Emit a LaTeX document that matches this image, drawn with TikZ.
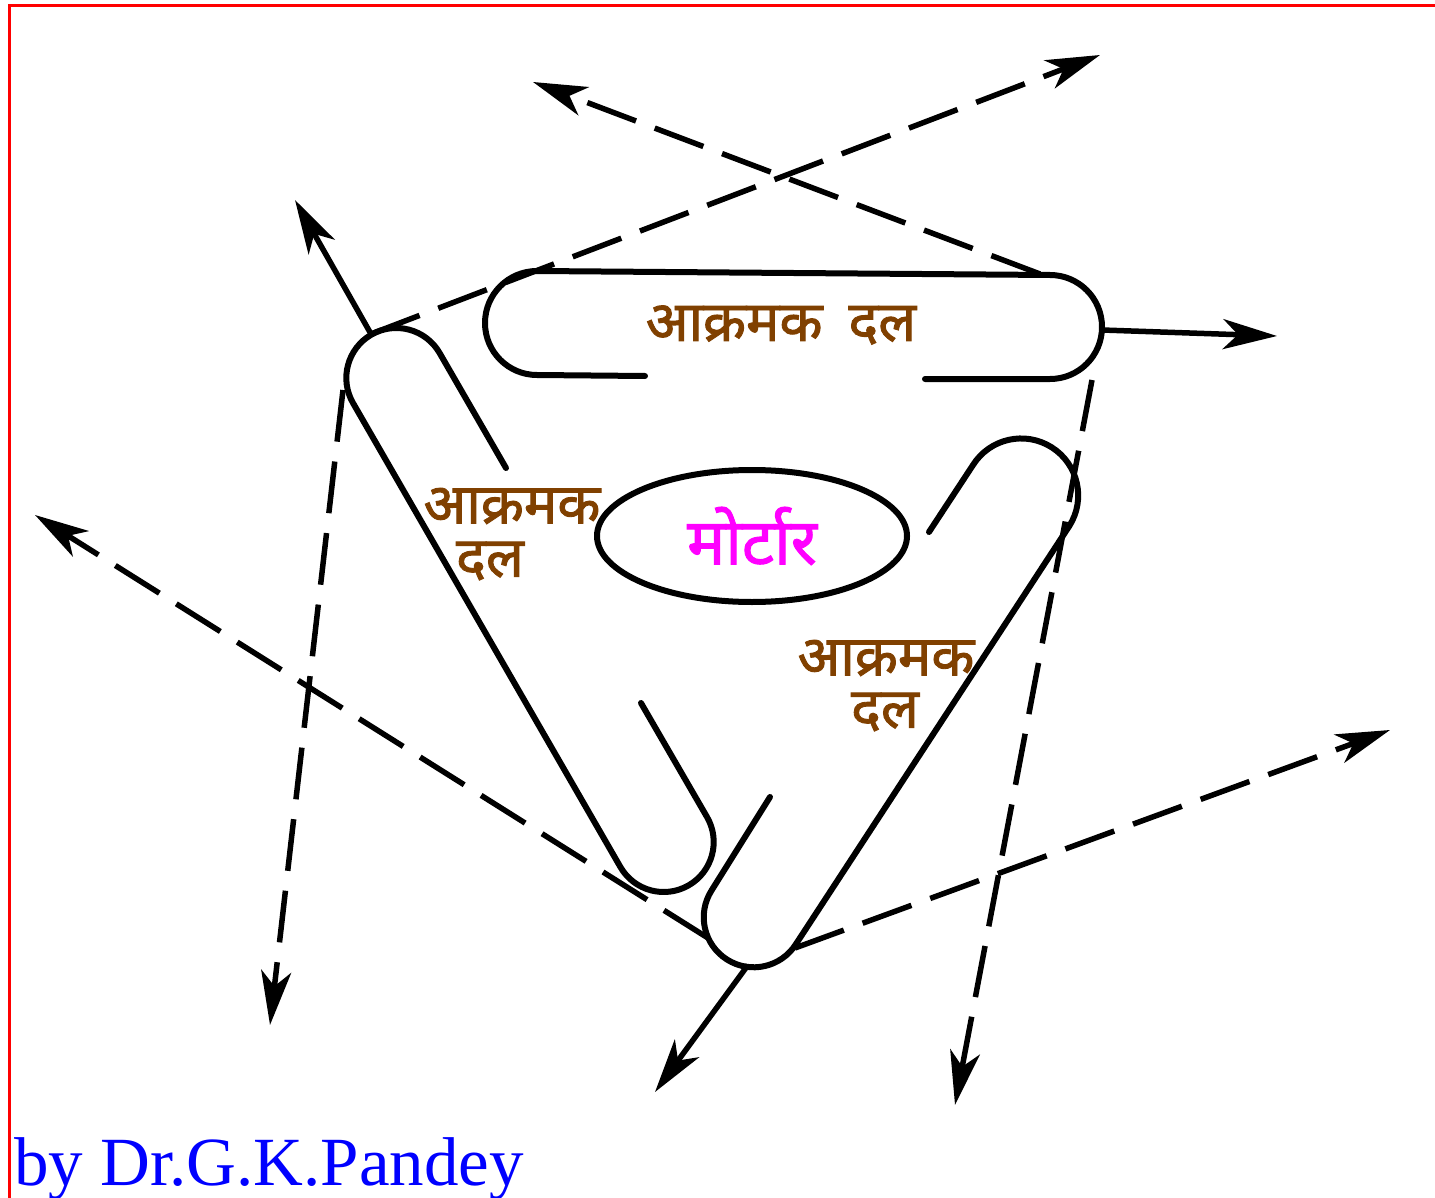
\documentclass[tikz,border=0pt]{standalone}
\usepackage{fontspec}
\setmainfont{Liberation Serif}
\newfontfamily\devfont[Script=Devanagari, FakeBold=1.6]{Noto Sans}
\usetikzlibrary{arrows.meta, shapes.geometric}

\begin{document}
\begin{tikzpicture}[x=1pt, y=1pt, >={Stealth[length=54pt, width=30pt, inset=15pt]},
    capline/.style={line width=6pt, line cap=round, line join=round},
    ray/.style={line width=5.5pt, ->},
    fire/.style={line width=5.5pt, dash pattern=on 52pt off 20pt, ->},
    dal/.style={text=dalBrown, inner sep=0pt, font=\devfont\fontsize{56}{60}\selectfont},
    mortar/.style={ellipse, draw, line width=6pt, minimum width=310pt, minimum height=132pt,
      text=mortarPink, inner sep=0pt, font=\devfont\fontsize{64}{68}\selectfont},
    sig/.style={text=sigBlue, inner sep=0pt, font=\fontsize{69}{72}\selectfont}]

  \definecolor{dalBrown}{RGB}{128,64,0}
  \definecolor{mortarPink}{RGB}{255,0,255}
  \definecolor{sigBlue}{RGB}{0,0,255}

  \useasboundingbox (0,0) rectangle (1435,-1198);

  % frame (only top and left edges show)
  \draw[red, line width=3pt] (9,-1198) -- (9,-6) -- (1435,-6);

  % the three attack groups
  \draw[capline] (645,-376) -- (537,-375) arc[start angle=270, end angle=90, radius=52]
    -- (1050,-275) arc[start angle=90, end angle=-90, radius=52] -- (925,-379);
  \draw[capline] (641,-703) -- (707,-817) arc[start angle=30, end angle=-150, radius=50]
    -- (353,-403) arc[start angle=210, end angle=30, radius=50] -- (506,-468);
  \draw[capline] (929,-532) -- (973,-465) arc[start angle=147.7, end angle=-32.3, radius=57]
    -- (796,-944) arc[start angle=-32.3, end angle=-212.3, radius=50] -- (770,-797);

  % mortar in the middle
  \node[mortar] (mortar) at (752,-536) {मोर्टार};

  % labels
  \node[dal] (dalTop) at (781,-325) {आक्रमक\hspace{26pt}दल};
  \node[dal] (dalLeftA) at (512,-506) {आक्रमक};
  \node[dal] (dalLeftB) at (490,-561) {दल};
  \node[dal] (dalRightA) at (886,-658) {आक्रमक};
  \node[dal] (dalRightB) at (885,-712) {दल};

  % corner points of the groups
  \coordinate (topE) at (1102,-330);
  \coordinate (topR) at (1040,-274);
  \coordinate (topB) at (1092,-380);
  \coordinate (leftE) at (371,-334);
  \coordinate (leftL) at (343,-390);
  \coordinate (botE) at (748,-965);
  \coordinate (botL) at (708,-938);
  \coordinate (botR) at (795,-948);

  % free ends
  \coordinate (topOut) at (1277,-336);
  \coordinate (leftOut) at (295,-200);
  \coordinate (botOut) at (655,-1092);
  \coordinate (nwOut) at (533,-82);
  \coordinate (neOut) at (1100,-55);
  \coordinate (swOut) at (270,-1025);
  \coordinate (sOut) at (955,-1105);
  \coordinate (wOut) at (35,-515);
  \coordinate (eOut) at (1390,-730);

  % solid moves
  \draw[ray] (topE) -- (topOut);
  \draw[ray] (leftE) -- (leftOut);
  \draw[ray] (botE) -- (botOut);

  % dashed fire lines
  \draw[fire] (topR) -- (nwOut);
  \draw[fire] (leftE) -- (neOut);
  \draw[fire] (leftL) -- (swOut);
  \draw[fire] (topB) -- (sOut);
  \draw[fire] (botL) -- (wOut);
  \draw[fire] (botR) -- (eOut);

  \node[sig, anchor=base west] (sign) at (14,-1185) {by Dr.G.K.Pandey};

\end{tikzpicture}
\end{document}
